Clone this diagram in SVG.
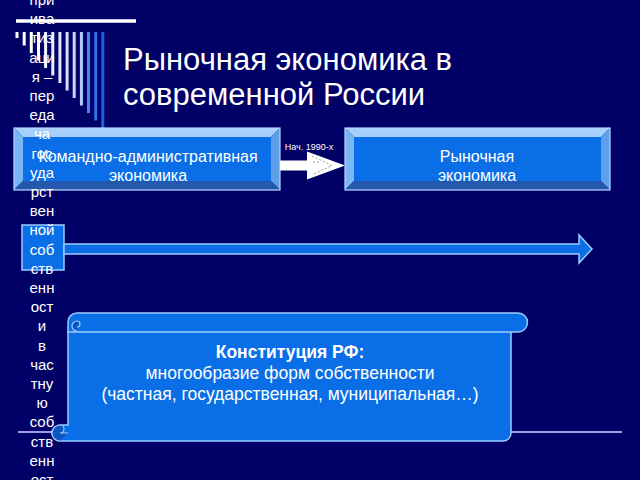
<svg xmlns="http://www.w3.org/2000/svg" width="640" height="480" viewBox="0 0 640 480">
<defs>
<style>
.bg{fill:#000066}
.t{font-family:"Liberation Sans",Arial,sans-serif;fill:#ffffff}
.title{font-size:31px}
.bx{font-size:16px;text-anchor:middle}
.side{font-size:15px;text-anchor:middle}
.sc{font-size:17.5px;text-anchor:middle}
.bt{fill:#a6d0fa}
.bl{fill:#78b6f5}
.br{fill:#5d9fea}
.bb{fill:#2358ad}
.face{fill:#0a6fe6}
.edge{fill:none;stroke:#b4daff;stroke-width:1.2}
.shape{fill:#0a6fe6;stroke:#9ccaff;stroke-width:1.5}
.bar{stroke-width:3}
</style>
</defs>
<rect class="bg" x="0" y="0" width="640" height="480"/>

<g id="decor">
<line x1="16" y1="21" x2="136" y2="21" stroke="#ffffff" stroke-width="3.5"/>
<line class="bar" x1="17" y1="32" x2="17" y2="38" stroke="#ffffff"/>
<line class="bar" x1="24.2" y1="32" x2="24.2" y2="45.5" stroke="#ffffff"/>
<line class="bar" x1="31.3" y1="32" x2="31.3" y2="53" stroke="#fffff0"/>
<line class="bar" x1="38.5" y1="32" x2="38.5" y2="60.5" stroke="#f8f8ff"/>
<line class="bar" x1="45.6" y1="32" x2="45.6" y2="68" stroke="#f0f2ff"/>
<line class="bar" x1="52.8" y1="32" x2="52.8" y2="75.5" stroke="#e8ecff"/>
<line class="bar" x1="59.9" y1="32" x2="59.9" y2="83" stroke="#e0e6ff"/>
<line class="bar" x1="67.1" y1="32" x2="67.1" y2="90.5" stroke="#d6e0ff"/>
<line class="bar" x1="74.2" y1="32" x2="74.2" y2="98" stroke="#c8d8ff"/>
<line class="bar" x1="81.4" y1="32" x2="81.4" y2="105.5" stroke="#b0ccff"/>
<line class="bar" x1="88.5" y1="32" x2="88.5" y2="113" stroke="#4a86f2"/>
<line class="bar" x1="95.7" y1="32" x2="95.7" y2="120.5" stroke="#2d70ea"/>
<line class="bar" x1="102.8" y1="32" x2="102.8" y2="128" stroke="#1a60e0"/>
<line x1="18" y1="432" x2="622" y2="432" stroke="#9c9ce8" stroke-width="2"/>
</g>

<g id="title">
<text class="t title" x="123" y="70">Рыночная экономика в</text>
<text class="t title" x="123" y="105">современной России</text>
</g>

<g id="box-command">
<rect class="face" x="23" y="137" width="248" height="44"/>
<polygon class="bt" points="14,128 280,128 271,137 23,137"/>
<polygon class="bl" points="14,128 23,137 23,181 14,190"/>
<polygon class="br" points="280,128 280,190 271,181 271,137"/>
<polygon class="bb" points="14,190 280,190 271,181 23,181"/>
<rect class="edge" x="14" y="128" width="266" height="62"/>
<text class="t bx" x="148" y="162">Командно-административная</text>
<text class="t bx" x="148" y="181">экономика</text>
</g>

<g id="box-market">
<rect class="face" x="354" y="137" width="247" height="44"/>
<polygon class="bt" points="345,128 610,128 601,137 354,137"/>
<polygon class="bl" points="345,128 354,137 354,181 345,190"/>
<polygon class="br" points="610,128 610,190 601,181 601,137"/>
<polygon class="bb" points="345,190 610,190 601,181 354,181"/>
<rect class="edge" x="345" y="128" width="265" height="62"/>
<text class="t bx" x="477" y="162">Рыночная</text>
<text class="t bx" x="477" y="181">экономика</text>
</g>

<g id="connectors">
<polygon points="280,160.5 307,160.5 307,151.5 345,165.5 307,179.5 307,170.5 280,170.5" fill="#ffffff"/>
<path d="M313,162 H320 M312,156 L332,165.5 L312,175" fill="none" stroke="#9a9a9a" stroke-width="1" stroke-dasharray="2,2"/>
<text class="t" x="309" y="150" font-size="9" text-anchor="middle">Нач. 1990-х</text>
</g>

<g id="timeline">
<rect class="shape" x="22" y="225" width="42" height="45"/>
<polygon class="shape" points="64,244 579,244 579,235 592,249 579,263 579,254 64,254"/>
</g>

<g id="scroll">
<path class="shape" d="M68,331 H511 V433 A8,8 0 0 1 503,441 H60 A8,8 0 0 1 60,425 H68 Z"/>
<path class="shape" d="M77,313 H518 A9.5,9.5 0 0 1 518,332 H68 V322 A9,9 0 0 1 77,313 Z"/>
<path d="M77,331 A5,5 0 1 1 77,321 A3,3 0 0 1 77,327" fill="#0a56c0" stroke="#9ccaff" stroke-width="1.2"/>
<path d="M60,441 A8,8 0 0 1 60,425 A4,4 0 0 1 60,433 H68" fill="#0a56c0" stroke="#9ccaff" stroke-width="1.2"/>
<text class="t sc" x="290" y="358" font-weight="bold">Конституция РФ:</text>
<text class="t sc" x="290" y="379">многообразие форм собственности</text>
<text class="t sc" x="290" y="400">(частная, государственная, муниципальная…)</text>
</g>

<g id="sidebar-text">
<text class="t side" x="42" y="5">при<tspan x="42" dy="19.2">ива</tspan><tspan x="42" dy="19.2">тиз</tspan><tspan x="42" dy="19.2">аци</tspan><tspan x="42" dy="19.2">я –</tspan><tspan x="42" dy="19.2">пер</tspan><tspan x="42" dy="19.2">еда</tspan><tspan x="42" dy="19.2">ча</tspan><tspan x="42" dy="19.2">гос</tspan><tspan x="42" dy="19.2">уда</tspan><tspan x="42" dy="19.2">рст</tspan><tspan x="42" dy="19.2">вен</tspan><tspan x="42" dy="19.2">ной</tspan><tspan x="42" dy="19.2">соб</tspan><tspan x="42" dy="19.2">ств</tspan><tspan x="42" dy="19.2">енн</tspan><tspan x="42" dy="19.2">ост</tspan><tspan x="42" dy="19.2">и</tspan><tspan x="42" dy="19.2">в</tspan><tspan x="42" dy="19.2">час</tspan><tspan x="42" dy="19.2">тну</tspan><tspan x="42" dy="19.2">ю</tspan><tspan x="42" dy="19.2">соб</tspan><tspan x="42" dy="19.2">ств</tspan><tspan x="42" dy="19.2">енн</tspan><tspan x="42" dy="19.2">ост</tspan></text>
</g>
</svg>
